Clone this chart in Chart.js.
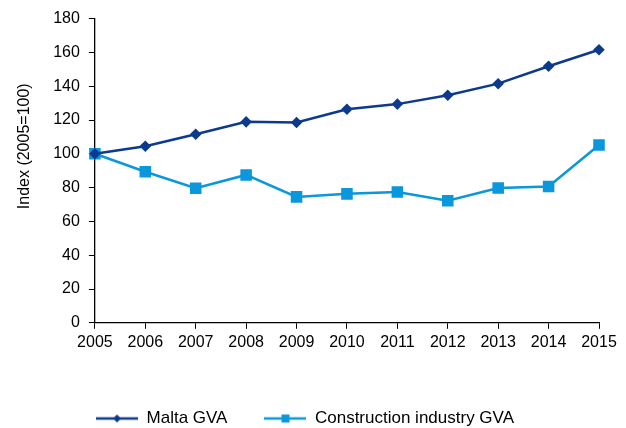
<!DOCTYPE html>
<html>
<head>
<meta charset="utf-8">
<script src="https://cdn.jsdelivr.net/npm/chart.js@4.4.0/dist/chart.umd.min.js"></script>
<style>
  html, body { margin: 0; padding: 0; background: #fff; }
  #wrap { width: 626px; height: 428px; }
</style>
</head>
<body>
<div id="wrap"><canvas id="chart"></canvas></div>
<script>
// data
const years = ['2005', '2006', '2007', '2008', '2009', '2010', '2011', '2012', '2013', '2014', '2015'];
const maltaGVA = [100, 104.5, 111.6, 118.9, 118.5, 126.4, 129.4, 134.7, 141.5, 151.8, 161.6];
const constructionGVA = [100, 89.4, 79.6, 87.5, 74.5, 76.3, 77.4, 72.2, 79.8, 80.6, 105.2];
const yTicks = [0, 20, 40, 60, 80, 100, 120, 140, 160, 180];

const navy = '#0b3a8e';
const sky = '#0a97dc';
const font = "'Liberation Sans', Arial, sans-serif";

// small line+marker swatch for the legend
const swatch = (color, style) => {
    const c = document.createElement('canvas');
    c.width = 42; c.height = 12;
    const g = c.getContext('2d');
    g.strokeStyle = color; g.lineWidth = 2.5;
    g.beginPath(); g.moveTo(0, 6); g.lineTo(42, 6); g.stroke();
    g.fillStyle = color;
    g.beginPath();
    if (style === 'diamond') {
        g.moveTo(21, 2); g.lineTo(25, 6); g.lineTo(21, 10); g.lineTo(17, 6);
    } else {
        g.rect(17, 2, 8, 8);
    }
    g.closePath(); g.fill();
    return c;
};

Chart.defaults.font.family = font;
Chart.defaults.color = '#000';

new Chart(document.getElementById('chart'), {
    type: 'line',
    data: {
        labels: years,
        datasets: [{
            label: 'Malta GVA',
            data: maltaGVA,
            borderColor: navy,
            backgroundColor: navy,
            borderWidth: 2.5,
            pointStyle: 'rectRot',
            pointRadius: 4,
            pointHoverRadius: 4,
            tension: 0
        }, {
            label: 'Construction industry GVA',
            data: constructionGVA,
            borderColor: sky,
            backgroundColor: sky,
            borderWidth: 2.5,
            pointStyle: 'rect',
            pointRadius: 6.4,
            pointHoverRadius: 6.4,
            tension: 0
        }]
    },
    options: {
        responsive: true,
        maintainAspectRatio: false,
        animation: false,
        layout: { padding: { top: 8, right: 27, left: 11, bottom: -9 } },
        scales: {
            x: {
                offset: false,
                grid: { display: true, drawOnChartArea: false, drawTicks: true, tickLength: 6, color: '#000' },
                border: { color: '#000', width: 1.3 },
                ticks: { font: { size: 16 }, color: '#000', maxRotation: 0, padding: 4 },
                // extra room between the year labels and the legend
                afterFit: axis => { axis.height += 17; }
            },
            y: {
                min: 0,
                max: 180,
                afterBuildTicks: axis => { axis.ticks = yTicks.map(v => ({ value: v })); },
                grid: { display: true, drawOnChartArea: false, drawTicks: true, tickLength: 6, color: '#000' },
                border: { color: '#000', width: 1.3 },
                ticks: { font: { size: 16 }, color: '#000', padding: 9 },
                title: {
                    display: true,
                    text: '\u00A0'.repeat(11) + 'Index (2005=100)',
                    font: { size: 16 },
                    color: '#000',
                    padding: { bottom: 10 }
                }
            }
        },
        plugins: {
            tooltip: { enabled: false },
            legend: {
                position: 'bottom',
                labels: {
                    usePointStyle: true,
                    pointStyleWidth: 42,
                    font: { size: 17 },
                    color: '#000',
                    padding: 37,
                    generateLabels: chart => chart.data.datasets.map((ds, i) => ({
                        text: ds.label,
                        pointStyle: swatch(ds.borderColor, i === 0 ? 'diamond' : 'square'),
                        fillStyle: ds.borderColor,
                        strokeStyle: ds.borderColor,
                        lineWidth: 0,
                        datasetIndex: i
                    }))
                }
            }
        }
    }
});
</script>
</body>
</html>
